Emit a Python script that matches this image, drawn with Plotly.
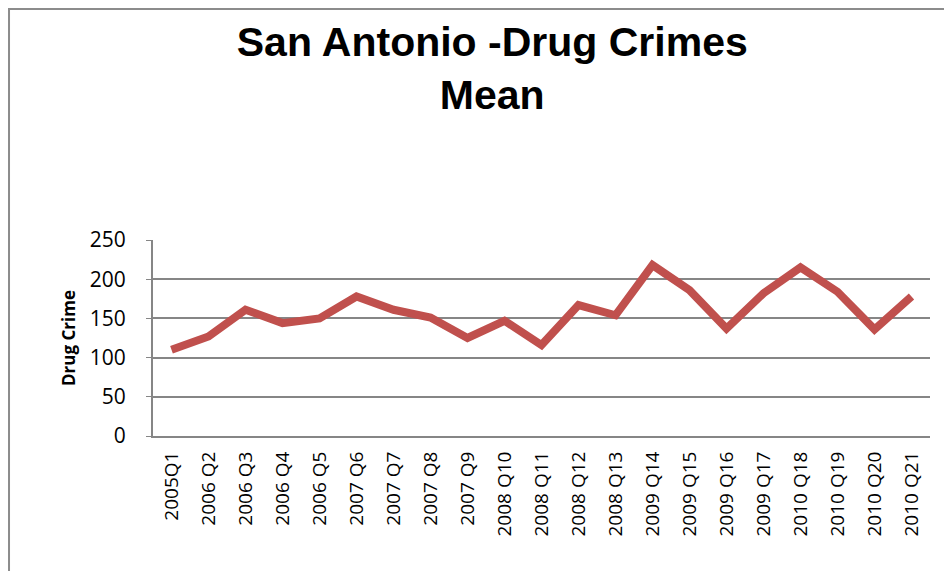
import plotly.graph_objects as go

quarters = ['2005Q1', '2006 Q2', '2006 Q3', '2006 Q4', '2006 Q5', '2007 Q6', '2007 Q7',
            '2007 Q8', '2007 Q9', '2008 Q10', '2008 Q11', '2008 Q12', '2008 Q13',
            '2009 Q14', '2009 Q15', '2009 Q16', '2009 Q17', '2010 Q18', '2010 Q19',
            '2010 Q20', '2010 Q21']
drug_mean = [110, 127, 161, 144, 150, 178, 161, 151, 125, 147, 116, 167, 154,
             218, 186, 137, 182, 215, 184, 136, 178]

fig = go.Figure()
fig.add_trace(go.Scatter(
    x=quarters,
    y=drug_mean,
    mode='lines',
    line=dict(color='#C0504D', width=8),
    showlegend=False,
))

# page body has an 8px margin, so the figure is a bit smaller than the window
fig.update_layout(
    width=944,
    height=563,
    margin=dict(l=145, r=22, t=232, b=135),
    paper_bgcolor='white',
    plot_bgcolor='white',
    title=dict(
        text='San Antonio -Drug Crimes<br>Mean',
        x=0.513, xanchor='center',
        y=0.915, yanchor='top',
        font=dict(family='Liberation Sans Narrow, Arial Narrow, Liberation Sans', size=41, color='black', weight='bold'),
    ),
    font=dict(family='Open Sans', color='black'),
)

fig.update_yaxes(
    range=[0, 250],
    dtick=50,
    showgrid=True,
    gridcolor='#868686',
    gridwidth=2,
    showline=True,
    linecolor='#868686',
    linewidth=2,
    ticks='outside',
    ticklen=5,
    tickcolor='#868686',
    ticklabelstandoff=16,
    tickfont=dict(family='Open Sans', size=21),
    zeroline=False,
    title=dict(text='<b>Drug Crime</b>', font=dict(family='Open Sans', size=17), standoff=10),
)

# categories sit in the middle of their slots, like Excel
fig.update_xaxes(
    range=[-0.5, len(quarters) - 0.5],
    showline=True,
    linecolor='#868686',
    linewidth=2,
    showgrid=False,
    tickangle=-90,
    tickfont=dict(family='Open Sans', size=19),
    ticks='outside',
    ticklen=6,
    tickcolor='rgba(0,0,0,0)',
)

# chart outer border (kept inside the svg so it isn't clipped)
fig.add_shape(type='rect', xref='paper', yref='paper',
              x0=-0.1853, x1=1.1, y0=-1.0, y1=2.179,
              line=dict(color='#8c8c8c', width=2), fillcolor='rgba(0,0,0,0)')

fig.write_html('out.html')
